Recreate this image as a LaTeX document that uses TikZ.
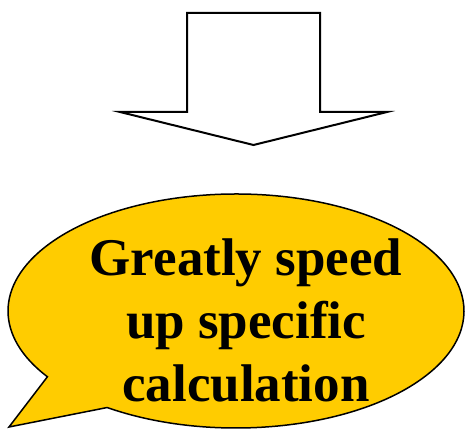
\documentclass[tikz,border=0pt]{standalone}
\usepackage{fontspec}
\setmainfont{Liberation Serif}
\usetikzlibrary{calc}
\definecolor{bubbleyellow}{RGB}{255,204,0}

\begin{document}
\begin{tikzpicture}[x=1pt,y=1pt,every node/.style={align=center}]
    \useasboundingbox (0,0) rectangle (472,430);
    % block arrow
    \draw[line width=2pt,line join=miter,fill=white] (187,417) -- (320,417) -- (320,318) -- (387,318)
      -- (253.5,285) -- (120,318) -- (187,318) -- cycle;
    % speech bubble
    \coordinate (c) at (236,119);
    \coordinate (tip) at (9,3);
    \draw[line width=1.5pt,fill=bubbleyellow]
      ($(c)+(235.6:228 and 117)$) arc[start angle=235.6,end angle=574.2,x radius=228,y radius=117]
      -- (tip) -- cycle;
    \node[font=\fontsize{53}{63}\selectfont\bfseries,anchor=base] (msg) at (246,28)
      {Greatly speed\\up specific\\calculation};
  \end{tikzpicture}
\end{document}
